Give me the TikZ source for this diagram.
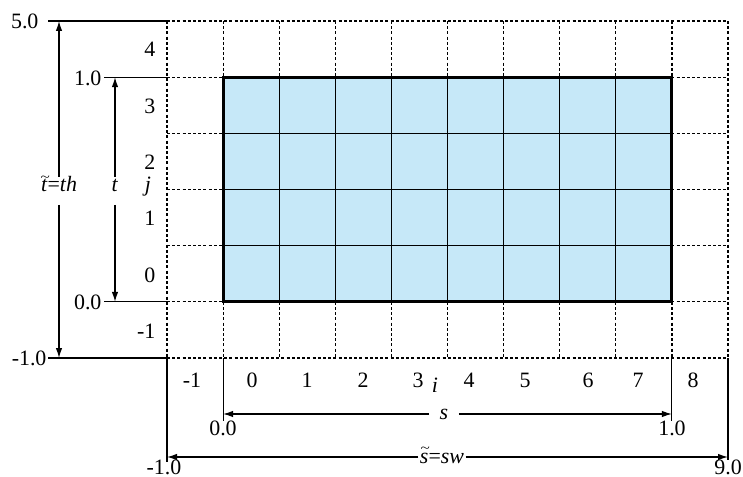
\documentclass[tikz,border=0pt]{standalone}
\usepackage{fontspec}
\usepackage{graphicx}
\setmainfont{Liberation Serif}
\usetikzlibrary{arrows.meta}
\definecolor{cellblue}{HTML}{C6E8F8}
\newcommand\wtil[1]{\ooalign{#1\cr\hidewidth\kern0.08em\raisebox{0.47em}{\scalebox{0.78}[0.6]{\textasciitilde}}\hidewidth\cr}}
\begin{document}
\begin{tikzpicture}[x=1bp,y=-1bp,line width=1.1bp,
  lbl/.style={inner sep=0pt,font=\fontsize{22}{26}\selectfont},
  arr/.style={-{Latex[length=10bp,width=6.5bp]},line width=1.2bp},
  gridd/.style={line width=1.2bp,dash pattern=on 3bp off 2.2bp},
  frame/.style={line width=3bp}]
\useasboundingbox (0,0) rectangle (743,477);
% dashed background grid
\foreach \k in {0,...,10}
  \draw[gridd] ({167+56.1*\k},21) -- ({167+56.1*\k},358);
\foreach \m in {0,...,6}
  \draw[gridd] (167,{21+56.1667*\m}) -- (728,{21+56.1667*\m});
% blue domain
\fill[cellblue] (223.1,77.17) rectangle (671.9,301.83);
\foreach \k in {2,...,8}
  \draw ({167+56.1*\k},77.17) -- ({167+56.1*\k},301.83);
\foreach \m in {2,...,4}
  \draw (223.1,{21+56.1667*\m}) -- (671.9,{21+56.1667*\m});
\draw[frame] (223.1,77.17) rectangle (671.9,301.83);
% key coordinates
\coordinate (gTL) at (167,21);
\coordinate (gBL) at (167,358);
\coordinate (gBR) at (728,358);
\coordinate (rTL) at (167,77.17);
\coordinate (rBL) at (167,301.83);
\coordinate (cB0) at (223.1,358);
\coordinate (cB1) at (671.9,358);
% left extension lines and values
\node[lbl,anchor=east] (v5) at (39,21) {5.0};
\node[lbl,anchor=east] (v1) at (102,78) {1.0};
\node[lbl,anchor=east] (v0) at (102,302) {0.0};
\node[lbl,anchor=east] (vm1) at (47,358) {-1.0};
\coordinate (e5) at (48,21);
\coordinate (e1) at (104,77.17);
\coordinate (e0) at (104,301.83);
\coordinate (em1) at (48,358);
\draw (e5) -- (gTL);
\draw (e1) -- (rTL);
\draw (e0) -- (rBL);
\draw (em1) -- (gBL);
% vertical dimension arrows
\coordinate (a5) at (59,21);
\coordinate (am1) at (59,358);
\coordinate (a1) at (115,77.17);
\coordinate (a0) at (115,301.83);
\node[lbl,anchor=base] (tt) at (59,192) {\wtil{\textit{t}}=\textit{th}};
\node[lbl,anchor=base] (t) at (115,192) {\textit{t}};
\node[lbl,anchor=base] (j) at (148,192) {\textit{j}};
\draw[arr] (tt.base) ++(0,-15) -- (a5);
\draw[arr] (tt.base) ++(0,13) -- (am1);
\draw[arr] (t.base) ++(0,-15) -- (a1);
\draw[arr] (t.base) ++(0,13) -- (a0);
% row indices
\node[lbl,anchor=east] (r4) at (156,49) {4};
\node[lbl,anchor=east] (r3) at (156,106) {3};
\node[lbl,anchor=east] (r2) at (156,162) {2};
\node[lbl,anchor=east] (r1) at (156,218) {1};
\node[lbl,anchor=east] (r0) at (156,275) {0};
\node[lbl,anchor=east] (rm1) at (156,331) {-1};
% column indices
\node[lbl] (cm1) at (192,380) {-1};
\node[lbl] (c0) at (252,380) {0};
\node[lbl] (c1) at (307,380) {1};
\node[lbl] (c2) at (363,380) {2};
\node[lbl] (c3) at (418,380) {3};
\node[lbl] (c4) at (469,380) {4};
\node[lbl] (c5) at (525,380) {5};
\node[lbl] (c6) at (588,380) {6};
\node[lbl] (c7) at (638,380) {7};
\node[lbl] (c8) at (693,380) {8};
\node[lbl,anchor=base] (i) at (435,392) {\textit{i}};
% bottom extension lines
\coordinate (b0) at (223.1,421);
\coordinate (b1) at (671.9,421);
\coordinate (bm1) at (167,462);
\coordinate (b9) at (728,460);
\draw (cB0) -- (b0);
\draw (cB1) -- (b1);
\draw (gBL) -- (bm1);
\draw (gBR) -- (b9);
\node[lbl] (h0) at (223,428.5) {0.0};
\node[lbl] (h1) at (672,428.5) {1.0};
\node[lbl] (hm1) at (164,467) {-1.0};
\node[lbl] (h9) at (728,467) {9.0};
% horizontal dimension arrows
\coordinate (s0) at (223.1,414);
\coordinate (s1) at (671.9,414);
\coordinate (sm1) at (167,457);
\coordinate (s9) at (728,457);
\node[lbl,inner xsep=10bp] (s) at (444,414) {\textit{s}};
\node[lbl,anchor=base,inner xsep=1bp] (sw) at (442,463) {\wtil{\textit{s}}=\textit{sw}};
\draw[arr] (s) -- (s0);
\draw[arr] (s) -- (s1);
\draw[arr] (sw.west |- sm1) -- (sm1);
\draw[arr] (sw.east |- s9) -- (s9);
\end{tikzpicture}
\end{document}
